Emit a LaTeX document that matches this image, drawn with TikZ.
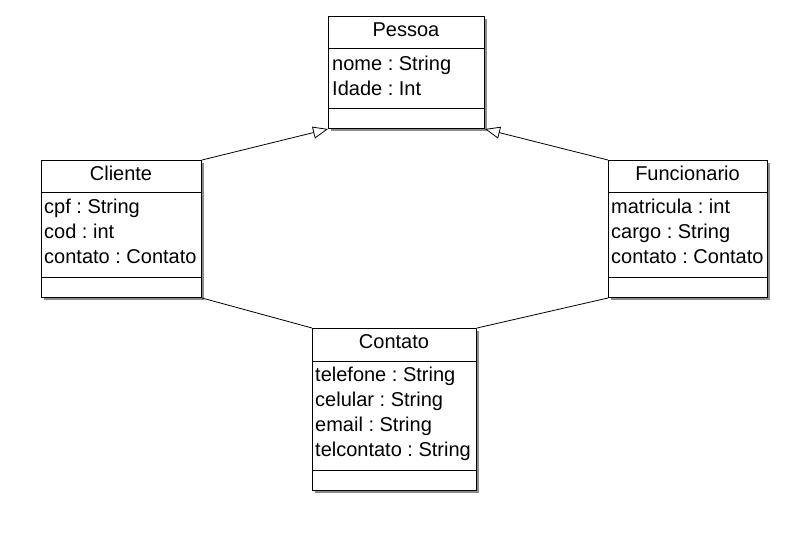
\documentclass[tikz,border=0pt]{standalone}
\usepackage{fontspec}
\setmainfont{Liberation Sans}
\usetikzlibrary{arrows.meta,shadows}
\frenchspacing
\begin{document}
\begin{tikzpicture}[x=1pt,y=-1pt,
  box/.style={draw, line width=1pt, fill=white, inner sep=0pt, anchor=north west,
    drop shadow={shadow xshift=2pt,shadow yshift=-2pt,fill=black!45,opacity=1}},
  ttl/.style={font=\fontsize{20}{24}\selectfont, inner sep=0pt, anchor=base},
  attr/.style={font=\fontsize{20}{24}\selectfont, inner sep=0pt, anchor=base west},
  sep/.style={line width=1pt},
  gen/.style={-{Triangle[open,length=15pt,width=12pt]}, line width=0.8pt},
  assoc/.style={line width=0.8pt}]
\useasboundingbox (0,0) rectangle (808,554);
\fill[white] (0,0) rectangle (808,554);

% Pessoa
\node[box, minimum width=156pt, minimum height=112pt] (pessoa) at (328,16) {};
\draw[sep] ([yshift=-32pt]pessoa.north west) -- ([yshift=-32pt]pessoa.north east);
\draw[sep] ([yshift=21pt]pessoa.south west) -- ([yshift=21pt]pessoa.south east);
\node[ttl] (pessoaT) at (406,36) {Pessoa};
\node[attr] (pessoaA1) at (332,70) {nome : String};
\node[attr] (pessoaA2) at (332,95) {Idade : Int};

% Cliente
\node[box, minimum width=160pt, minimum height=137pt] (cliente) at (41,160) {};
\draw[sep] ([yshift=-32pt]cliente.north west) -- ([yshift=-32pt]cliente.north east);
\draw[sep] ([yshift=21pt]cliente.south west) -- ([yshift=21pt]cliente.south east);
\node[ttl] (clienteT) at (121,180) {Cliente};
\node[attr] (clienteA1) at (44,213) {cpf : String};
\node[attr] (clienteA2) at (44,238) {cod : int};
\node[attr] (clienteA3) at (44,263) {contato : Contato};

% Funcionario
\node[box, minimum width=159pt, minimum height=137pt] (func) at (608,160) {};
\draw[sep] ([yshift=-32pt]func.north west) -- ([yshift=-32pt]func.north east);
\draw[sep] ([yshift=21pt]func.south west) -- ([yshift=21pt]func.south east);
\node[ttl] (funcT) at (687.5,180) {Funcionario};
\node[attr] (funcA1) at (611,213) {matricula : int};
\node[attr] (funcA2) at (611,238) {cargo : String};
\node[attr] (funcA3) at (611,263) {contato : Contato};

% Contato
\node[box, minimum width=164pt, minimum height=162pt] (contato) at (312,328) {};
\draw[sep] ([yshift=-33pt]contato.north west) -- ([yshift=-33pt]contato.north east);
\draw[sep] ([yshift=21pt]contato.south west) -- ([yshift=21pt]contato.south east);
\node[ttl] (contatoT) at (394,348) {Contato};
\node[attr] (contatoA1) at (315,381) {telefone : String};
\node[attr] (contatoA2) at (315,406) {celular : String};
\node[attr] (contatoA3) at (315,431) {email : String};
\node[attr] (contatoA4) at (315,456) {telcontato : String};

% Connectors
\draw[gen] (cliente.north east) -- (pessoa.south west);
\draw[gen] (func.north west) -- (pessoa.south east);
\draw[assoc] (cliente.south east) -- (contato.north west);
\draw[assoc] (func.south west) -- (contato.north east);
\end{tikzpicture}
\end{document}
